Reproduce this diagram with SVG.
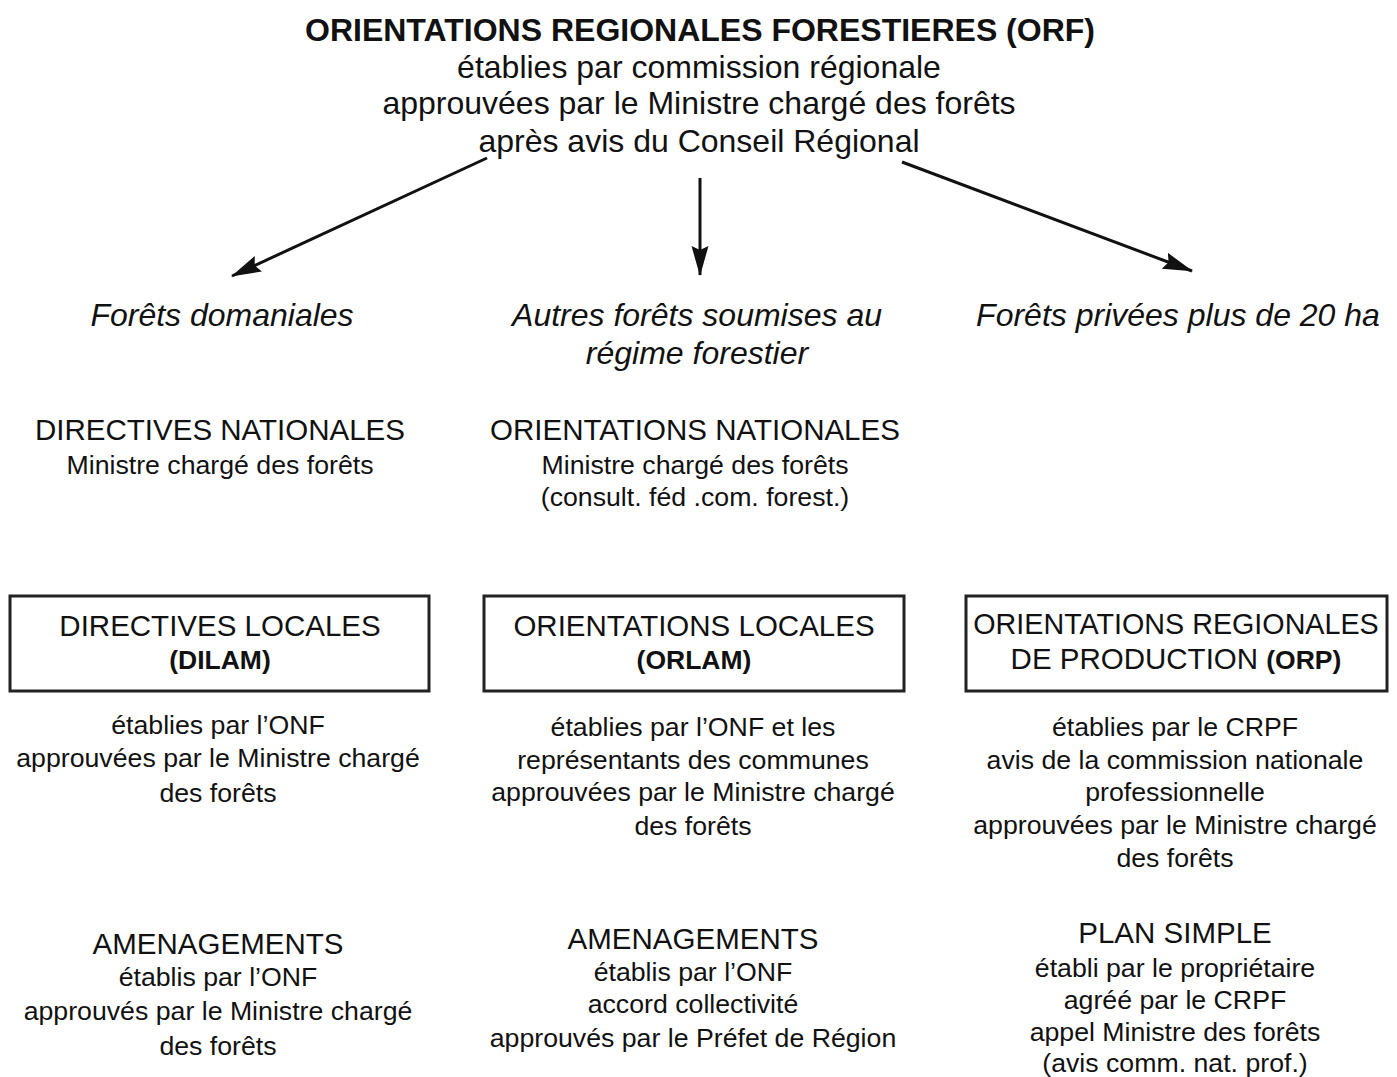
<svg xmlns="http://www.w3.org/2000/svg" width="1397" height="1077" viewBox="0 0 1397 1077">
<style>
text{font-family:"Liberation Sans",Arial,sans-serif;fill:#111;text-anchor:middle}
.t{font-size:32px;font-weight:bold}
.s{font-size:32px}
.i{font-size:32px;font-style:italic}
.h{font-size:29.5px}
.n{font-size:26.7px}
.b{font-weight:bold;font-size:26.5px}
.box{fill:#fff;stroke:#222;stroke-width:3}
.c{stroke:#111;stroke-width:3;fill:none}
</style>
<defs>
<marker id="a2" viewBox="0 0 30 20" refX="29" refY="10" markerWidth="30" markerHeight="20" markerUnits="userSpaceOnUse" orient="auto">
<path d="M0,1.5 L30,10 L0,18.5 L4,10 Z" fill="#111"/>
</marker>
</defs>
<rect width="1397" height="1077" fill="#fff"/>
<g id="title">
<text class="t" x="700" y="41">ORIENTATIONS REGIONALES FORESTIERES (ORF)</text>
<text class="s" x="699" y="78">établies par commission régionale</text>
<text class="s" x="699" y="114">approuvées par le Ministre chargé des forêts</text>
<text class="s" x="699" y="152">après avis du Conseil Régional</text>
</g>
<g id="connectors">
<line class="c" x1="487" y1="158" x2="232" y2="276" marker-end="url(#a2)"/>
<line class="c" x1="700" y1="178" x2="700" y2="275" marker-end="url(#a2)"/>
<line class="c" x1="902" y1="162" x2="1192" y2="271" marker-end="url(#a2)"/>
</g>
<g id="cat-domaniales"><text class="i" x="222" y="326">Forêts domaniales</text></g>
<g id="cat-autres"><text class="i" x="697" y="326">Autres forêts soumises au</text><text class="i" x="697" y="364">régime forestier</text></g>
<g id="cat-privees"><text class="i" x="1178" y="326">Forêts privées plus de 20 ha</text></g>
<g id="directives-nationales"><text class="h" x="220" y="440">DIRECTIVES NATIONALES</text><text class="n" x="220" y="474">Ministre chargé des forêts</text></g>
<g id="orientations-nationales"><text class="h" x="695" y="440">ORIENTATIONS NATIONALES</text><text class="n" x="695" y="474">Ministre chargé des forêts</text><text class="n" x="695" y="506">(consult. féd .com. forest.)</text></g>
<g id="dilam"><rect class="box" x="10" y="596" width="419" height="95"/><text class="h" x="220" y="636">DIRECTIVES LOCALES</text><text class="b" x="220" y="669">(DILAM)</text></g>
<g id="orlam"><rect class="box" x="484" y="596" width="420" height="95"/><text class="h" x="694" y="636">ORIENTATIONS LOCALES</text><text class="b" x="694" y="669">(ORLAM)</text></g>
<g id="orp"><rect class="box" x="966" y="596" width="421" height="95"/><text class="h" x="1176" y="634" font-size="28.7" style="font-size:28.7px">ORIENTATIONS REGIONALES</text><text class="h" x="1176" y="669">DE PRODUCTION <tspan font-weight="bold" font-size="26.5">(ORP)</tspan></text></g>
<g id="dilam-desc"><text class="n" x="218" y="734">établies par l’ONF</text><text class="n" x="218" y="767">approuvées par le Ministre chargé</text><text class="n" x="218" y="802">des forêts</text></g>
<g id="orlam-desc"><text class="n" x="693" y="736">établies par l’ONF et les</text><text class="n" x="693" y="769">représentants des communes</text><text class="n" x="693" y="801">approuvées par le Ministre chargé</text><text class="n" x="693" y="835">des forêts</text></g>
<g id="orp-desc"><text class="n" x="1175" y="736">établies par le CRPF</text><text class="n" x="1175" y="769">avis de la commission nationale</text><text class="n" x="1175" y="801">professionnelle</text><text class="n" x="1175" y="834">approuvées par le Ministre chargé</text><text class="n" x="1175" y="867">des forêts</text></g>
<g id="amenagements-domaniales"><text class="h" x="218" y="954">AMENAGEMENTS</text><text class="n" x="218" y="986">établis par l’ONF</text><text class="n" x="218" y="1020">approuvés par le Ministre chargé</text><text class="n" x="218" y="1055">des forêts</text></g>
<g id="amenagements-autres"><text class="h" x="693" y="949">AMENAGEMENTS</text><text class="n" x="693" y="981">établis par l’ONF</text><text class="n" x="693" y="1013">accord collectivité</text><text class="n" x="693" y="1047">approuvés par le Préfet de Région</text></g>
<g id="plan-simple"><text class="h" x="1175" y="943">PLAN SIMPLE</text><text class="n" x="1175" y="977">établi par le propriétaire</text><text class="n" x="1175" y="1009">agréé par le CRPF</text><text class="n" x="1175" y="1041">appel Ministre des forêts</text><text class="n" x="1175" y="1072">(avis comm. nat. prof.)</text></g>
</svg>
